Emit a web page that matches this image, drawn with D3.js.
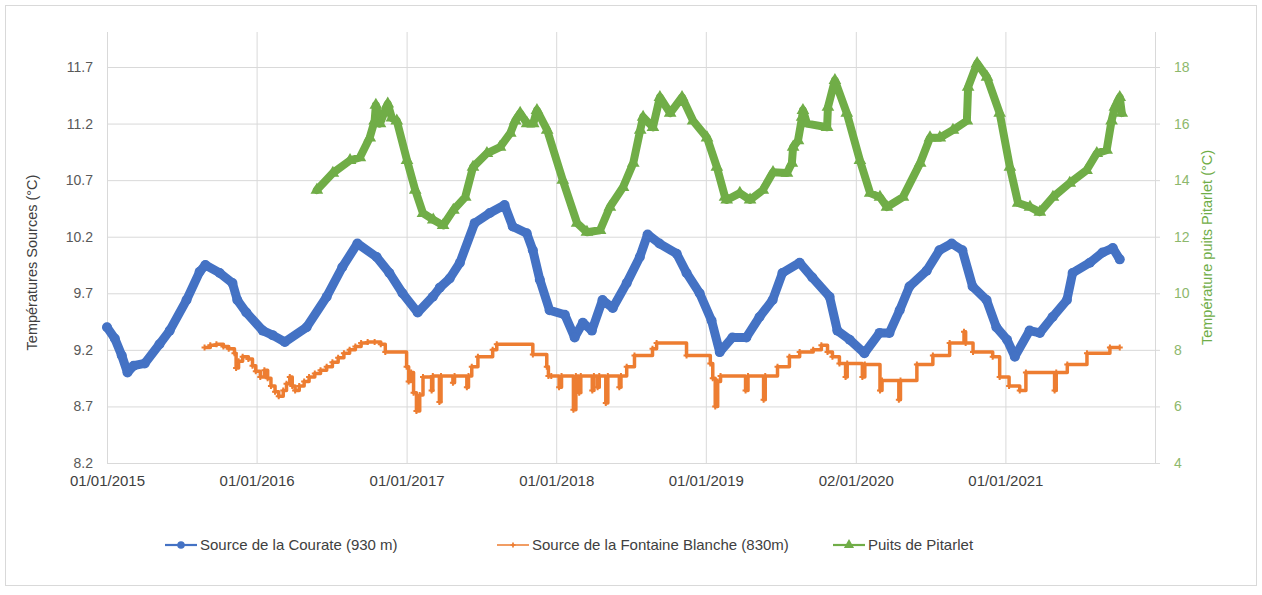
<!DOCTYPE html>
<html>
<head>
<meta charset="utf-8">
<script src="https://cdn.jsdelivr.net/npm/d3@7"></script>
<style>
  html, body { margin: 0; padding: 0; background: #ffffff; }
  svg { display: block; font-family: "Liberation Sans", Arial, sans-serif; }
</style>
</head>
<body>
<svg id="chart" width="1262" height="595"></svg>
<script>
// Axis ticks
const xTickDates = ["2015-01-01", "2016-01-01", "2017-01-01", "2018-01-01", "2019-01-01", "2020-01-02", "2021-01-01"];
const xTickLabels = ["01/01/2015", "01/01/2016", "01/01/2017", "01/01/2018", "01/01/2019", "02/01/2020", "01/01/2021"];
const leftTicks = [8.2, 8.7, 9.2, 9.7, 10.2, 10.7, 11.2, 11.7];
const rightTicks = [4, 6, 8, 10, 12, 14, 16, 18];

// Source de la Courate (930 m) — left axis, °C
const courateDates = [
  "2015-01-01","2015-01-20","2015-02-06","2015-02-20","2015-03-07","2015-04-03","2015-05-09","2015-06-03",
  "2015-07-14","2015-08-15","2015-08-29","2015-10-03","2015-11-03","2015-11-15","2015-12-07","2016-01-16",
  "2016-02-09","2016-03-10","2016-05-02","2016-06-20","2016-07-28","2016-09-03","2016-10-20","2016-11-20",
  "2016-12-22","2017-01-28","2017-03-06","2017-03-23","2017-04-16","2017-05-11","2017-06-16","2017-07-23",
  "2017-08-28","2017-09-17","2017-10-21","2017-11-05","2017-11-22","2017-12-16","2018-01-22","2018-02-15",
  "2018-03-07","2018-03-29","2018-04-24","2018-05-19","2018-06-22","2018-07-24","2018-08-12","2018-09-10",
  "2018-10-22","2018-11-15","2018-12-17","2019-01-15","2019-02-04","2019-03-07","2019-04-10","2019-05-12",
  "2019-06-13","2019-07-07","2019-08-18","2019-09-18","2019-10-30","2019-11-18","2019-12-18","2020-01-23",
  "2020-02-29","2020-03-24","2020-04-18","2020-05-12","2020-06-23","2020-07-24","2020-08-23","2020-09-18",
  "2020-10-13","2020-11-16","2020-12-10","2021-01-05","2021-01-24","2021-03-01","2021-03-26","2021-04-26",
  "2021-05-31","2021-06-14","2021-07-26","2021-08-26","2021-09-20","2021-10-07"
];
const courateValues = [
  9.40, 9.30, 9.15, 9.00, 9.06, 9.08, 9.25, 9.37,
  9.64, 9.89, 9.95, 9.88, 9.79, 9.64, 9.53, 9.37,
  9.33, 9.27, 9.40, 9.67, 9.93, 10.14, 10.02, 9.88,
  9.70, 9.53, 9.67, 9.75, 9.83, 9.97, 10.32, 10.41,
  10.48, 10.29, 10.23, 10.08, 9.82, 9.55, 9.51, 9.31,
  9.44, 9.37, 9.64, 9.57, 9.79, 10.02, 10.22, 10.14,
  10.05, 9.88, 9.70, 9.46, 9.18, 9.31, 9.31, 9.49,
  9.64, 9.88, 9.97, 9.84, 9.67, 9.37, 9.29, 9.17,
  9.35, 9.35, 9.55, 9.76, 9.90, 10.08, 10.14, 10.08,
  9.76, 9.64, 9.40, 9.29, 9.14, 9.37, 9.35, 9.49,
  9.64, 9.88, 9.97, 10.06, 10.10, 10.00
];

// Source de la Fontaine Blanche (830m) — left axis, °C (value held until next reading)
const fontaineDates = [
  "2015-08-27","2015-09-10","2015-09-25","2015-10-12","2015-10-25","2015-11-08","2015-11-12","2015-11-18",
  "2015-11-28","2015-12-12","2015-12-22","2015-12-30","2016-01-10","2016-01-20","2016-01-28","2016-02-05",
  "2016-02-15","2016-02-24","2016-03-06","2016-03-14","2016-03-22","2016-03-28","2016-04-04","2016-04-14",
  "2016-04-26","2016-05-08","2016-05-22","2016-06-05","2016-06-20","2016-07-04","2016-07-18","2016-08-01",
  "2016-08-15","2016-08-29","2016-09-12","2016-09-28","2016-10-15","2016-10-30","2016-11-10",
  "2017-01-01","2017-01-06","2017-01-12","2017-01-18","2017-01-25","2017-02-02","2017-02-10","2017-03-03",
  "2017-03-06","2017-03-22","2017-03-26","2017-04-24","2017-04-28","2017-05-28","2017-06-01","2017-06-09",
  "2017-06-24","2017-07-30","2017-08-09","2017-11-05","2017-12-09","2017-12-13","2017-12-20","2018-01-08",
  "2018-01-14","2018-02-12","2018-02-18","2018-02-26","2018-03-02","2018-03-30","2018-04-03","2018-04-12",
  "2018-04-16","2018-05-02","2018-05-07","2018-06-04","2018-06-08","2018-06-22","2018-07-11","2018-08-24",
  "2018-09-03","2018-11-15","2019-01-12","2019-01-18","2019-01-24","2019-01-30","2019-02-06","2019-04-08",
  "2019-04-14","2019-05-22","2019-05-26","2019-06-25","2019-07-24","2019-08-18","2019-09-20","2019-10-10",
  "2019-10-25","2019-11-06","2019-11-23","2019-12-08","2019-12-12","2020-01-18","2020-01-24","2020-03-01",
  "2020-03-06","2020-04-16","2020-04-20","2020-05-30","2020-07-08","2020-08-18","2020-09-22","2020-09-26",
  "2020-10-14","2020-12-01","2020-12-18","2021-01-10","2021-02-05","2021-02-20","2021-05-01","2021-05-05",
  "2021-06-01","2021-07-19","2021-09-13","2021-10-07"
];
const fontaineValues = [
  9.22, 9.24, 9.25, 9.23, 9.21, 9.17, 9.04, 9.10,
  9.14, 9.12, 9.06, 9.01, 8.96, 9.02, 8.95, 8.88,
  8.83, 8.79, 8.84, 8.90, 8.96, 8.88, 8.84, 8.88,
  8.92, 8.96, 8.99, 9.02, 9.05, 9.09, 9.13, 9.17,
  9.20, 9.23, 9.26, 9.27, 9.27, 9.25, 9.18,
  9.05, 8.92, 9.00, 8.82, 8.66, 8.80, 8.96, 8.84,
  8.97, 8.74, 8.97, 8.91, 8.97, 8.87, 8.97, 9.05,
  9.14, 9.20, 9.25, 9.16, 9.05, 8.97, 8.97, 8.87,
  8.97, 8.67, 8.97, 8.82, 8.97, 8.84, 8.97, 8.87,
  8.97, 8.73, 8.97, 8.87, 8.97, 9.05, 9.15, 9.21,
  9.26, 9.15, 9.08, 8.95, 8.70, 8.92, 8.97, 8.84,
  8.97, 8.76, 8.97, 9.05, 9.14, 9.18, 9.20, 9.24,
  9.18, 9.14, 9.08, 8.96, 9.08, 8.96, 9.07, 8.84,
  8.93, 8.76, 8.93, 9.07, 9.15, 9.26, 9.36, 9.26,
  9.18, 9.14, 8.96, 8.88, 8.84, 9.00, 8.84, 9.00,
  9.07, 9.17, 9.22, 9.22
];

// Puits de Pitarlet — right axis, °C
const pitarletDates = [
  "2016-05-27","2016-07-05","2016-08-16","2016-09-09","2016-10-03","2016-10-15","2016-10-18","2016-10-28",
  "2016-11-16","2016-11-26","2016-12-08","2017-01-02","2017-01-22","2017-02-10","2017-03-07","2017-03-31",
  "2017-04-25","2017-05-24","2017-06-12","2017-07-16","2017-08-17","2017-09-11","2017-09-23","2017-10-05",
  "2017-10-22","2017-11-06","2017-11-15","2017-12-10","2018-01-17","2018-02-21","2018-03-17","2018-04-18",
  "2018-05-12","2018-06-13","2018-07-08","2018-07-25","2018-08-01","2018-08-25","2018-09-11","2018-10-06",
  "2018-11-04","2018-12-01","2019-01-04","2019-01-28","2019-02-17","2019-02-21","2019-03-25","2019-04-19",
  "2019-05-20","2019-06-14","2019-07-18","2019-07-30","2019-08-02","2019-08-14","2019-08-24","2019-08-26",
  "2019-09-05","2019-10-24","2019-10-26","2019-11-12","2019-12-11","2020-01-12","2020-02-06","2020-03-01",
  "2020-03-18","2020-04-26","2020-06-07","2020-07-01","2020-07-25","2020-08-26","2020-09-29","2020-10-02",
  "2020-10-24","2020-11-17","2020-12-18","2021-01-12","2021-02-01","2021-03-02","2021-03-26","2021-04-27",
  "2021-06-07","2021-07-18","2021-08-12","2021-09-05","2021-09-17","2021-09-25","2021-10-07","2021-10-12"
];
const pitarletValues = [
  13.65, 14.25, 14.70, 14.80, 15.50, 16.10, 16.65, 16.00,
  16.70, 16.20, 16.10, 14.70, 13.65, 12.83, 12.60, 12.40,
  12.94, 13.40, 14.46, 14.95, 15.17, 15.66, 16.10, 16.37,
  16.00, 16.00, 16.47, 15.77, 14.00, 12.48, 12.16, 12.23,
  13.05, 13.75, 14.60, 15.77, 16.23, 15.87, 16.93, 16.37,
  16.93, 16.10, 15.50, 14.46, 13.40, 13.30, 13.54, 13.30,
  13.65, 14.28, 14.25, 14.60, 15.17, 15.40, 16.23, 16.47,
  16.00, 15.87, 16.58, 17.53, 16.37, 14.70, 13.54, 13.40,
  13.05, 13.40, 14.60, 15.50, 15.50, 15.77, 16.10, 17.29,
  18.13, 17.64, 16.37, 14.46, 13.19, 13.05, 12.87, 13.40,
  13.90, 14.35, 14.95, 15.06, 16.10, 16.58, 16.93, 16.37
];

const seriesNames = ["Source de la Courate (930 m)", "Source de la Fontaine Blanche (830m)", "Puits de Pitarlet"];
const seriesColors = ["#4472C4", "#ED7D31", "#70AD47"];

const parse = d3.utcParse("%Y-%m-%d");
const zip = (ds, vs) => ds.map((d, i) => ({ date: parse(d), value: vs[i] }));
const courate = zip(courateDates, courateValues);
const fontaine = zip(fontaineDates, fontaineValues);
const pitarlet = zip(pitarletDates, pitarletValues);

const svg = d3.select("#chart");
const plot = { left: 107, right: 1155, top: 32, bottom: 463 };

const x = d3.scaleUtc()
  .domain([parse("2015-01-01"), parse("2022-01-01")])
  .range([plot.left, plot.right]);
const yL = d3.scaleLinear().domain([8.2, 11.7]).range([plot.bottom, 67]);
const yR = d3.scaleLinear().domain([4, 18]).range([plot.bottom, 67]);

// Chart frame
svg.append("rect")
  .attr("x", 5.5).attr("y", 5.5).attr("width", 1251).attr("height", 580)
  .attr("fill", "#ffffff").attr("stroke", "#D9D9D9");

// Horizontal gridlines + left labels
const gLeft = svg.append("g")
  .attr("transform", `translate(${plot.left},0)`)
  .call(d3.axisLeft(yL).tickValues(leftTicks).tickFormat(d3.format(".1f"))
    .tickSize(-(plot.right - plot.left)).tickPadding(14));
gLeft.select(".domain").remove();
gLeft.selectAll(".tick line").attr("stroke", "#D9D9D9");
gLeft.selectAll(".tick text").attr("fill", "#595959").style("font-size", "14px");

// Vertical gridlines + date labels
const gBottom = svg.append("g")
  .attr("transform", `translate(0,${plot.bottom})`)
  .call(d3.axisBottom(x).tickValues(xTickDates.map(parse))
    .tickFormat((d, i) => xTickLabels[i])
    .tickSize(-(plot.bottom - plot.top)).tickPadding(12));
gBottom.select(".domain").attr("stroke", "#D9D9D9").attr("d", `M${plot.left},0.5H${plot.right}`);
gBottom.selectAll(".tick line").attr("stroke", "#D9D9D9");
gBottom.selectAll(".tick text").attr("fill", "#404040").style("font-size", "15px");

// Right axis
const gRight = svg.append("g")
  .attr("transform", `translate(${plot.right},0)`)
  .call(d3.axisRight(yR).tickValues(rightTicks).tickSize(5).tickPadding(14));
gRight.select(".domain").attr("stroke", "#D9D9D9").attr("d", `M0.5,${plot.top}V${plot.bottom}`);
gRight.selectAll(".tick line").attr("stroke", "#D9D9D9");
gRight.selectAll(".tick text").attr("fill", "#8DB86C").style("font-size", "14px");

// Axis titles
svg.append("text")
  .attr("transform", `translate(37,${(plot.top + plot.bottom) / 2 + 15}) rotate(-90)`)
  .attr("text-anchor", "middle").attr("fill", "#404040").style("font-size", "14.5px")
  .text("Températures Sources (°C)");
svg.append("text")
  .attr("transform", `translate(1212,${(plot.top + plot.bottom) / 2}) rotate(-90)`)
  .attr("text-anchor", "middle").attr("fill", "#70AD47").style("font-size", "14.5px")
  .text("Température puits Pitarlet (°C)");

// Series
const lineL = d3.line().x(d => x(d.date)).y(d => yL(d.value)).curve(d3.curveLinear);
const stepL = d3.line().x(d => x(d.date)).y(d => yL(d.value)).curve(d3.curveStepAfter);
const lineR = d3.line().x(d => x(d.date)).y(d => yR(d.value)).curve(d3.curveLinear);

// Courate
svg.append("path").datum(courate).attr("d", lineL)
  .attr("fill", "none").attr("stroke", seriesColors[0]).attr("stroke-width", 9)
  .attr("stroke-linejoin", "round").attr("stroke-linecap", "round");
svg.append("g").selectAll("circle").data(courate).join("circle")
  .attr("cx", d => x(d.date)).attr("cy", d => yL(d.value)).attr("r", 5)
  .attr("fill", seriesColors[0]);

// Fontaine Blanche
svg.append("path").datum(fontaine).attr("d", stepL)
  .attr("fill", "none").attr("stroke", seriesColors[1]).attr("stroke-width", 3.5)
  .attr("stroke-linejoin", "round");
svg.append("g").selectAll("path").data(fontaine).join("path")
  .attr("transform", d => `translate(${x(d.date)},${yL(d.value)})`)
  .attr("d", d3.symbol(d3.symbolCross, 20)).attr("fill", seriesColors[1]);

// Pitarlet
svg.append("path").datum(pitarlet).attr("d", lineR)
  .attr("fill", "none").attr("stroke", seriesColors[2]).attr("stroke-width", 8)
  .attr("stroke-linejoin", "round").attr("stroke-linecap", "round");
svg.append("g").selectAll("path").data(pitarlet).join("path")
  .attr("transform", d => `translate(${x(d.date)},${yR(d.value)})`)
  .attr("d", d3.symbol(d3.symbolTriangle, 70)).attr("fill", seriesColors[2]);

// Legend
const legendX = [165, 497, 833];
const legendY = 545;
const markers = [d3.symbolCircle, d3.symbolCross, d3.symbolTriangle];
const markerSizes = [45, 14, 45];
seriesNames.forEach((name, i) => {
  const g = svg.append("g").attr("transform", `translate(${legendX[i]},${legendY})`);
  g.append("line").attr("x1", 0).attr("x2", 32).attr("y1", 0).attr("y2", 0)
    .attr("stroke", seriesColors[i]).attr("stroke-width", i === 1 ? 1.5 : 2.2);
  g.append("path").attr("transform", "translate(16,0)")
    .attr("d", d3.symbol(markers[i], markerSizes[i])).attr("fill", seriesColors[i]);
  g.append("text").attr("x", 35).attr("y", 5).attr("fill", "#404040")
    .style("font-size", "15px").text(name);
});
</script>
</body>
</html>
